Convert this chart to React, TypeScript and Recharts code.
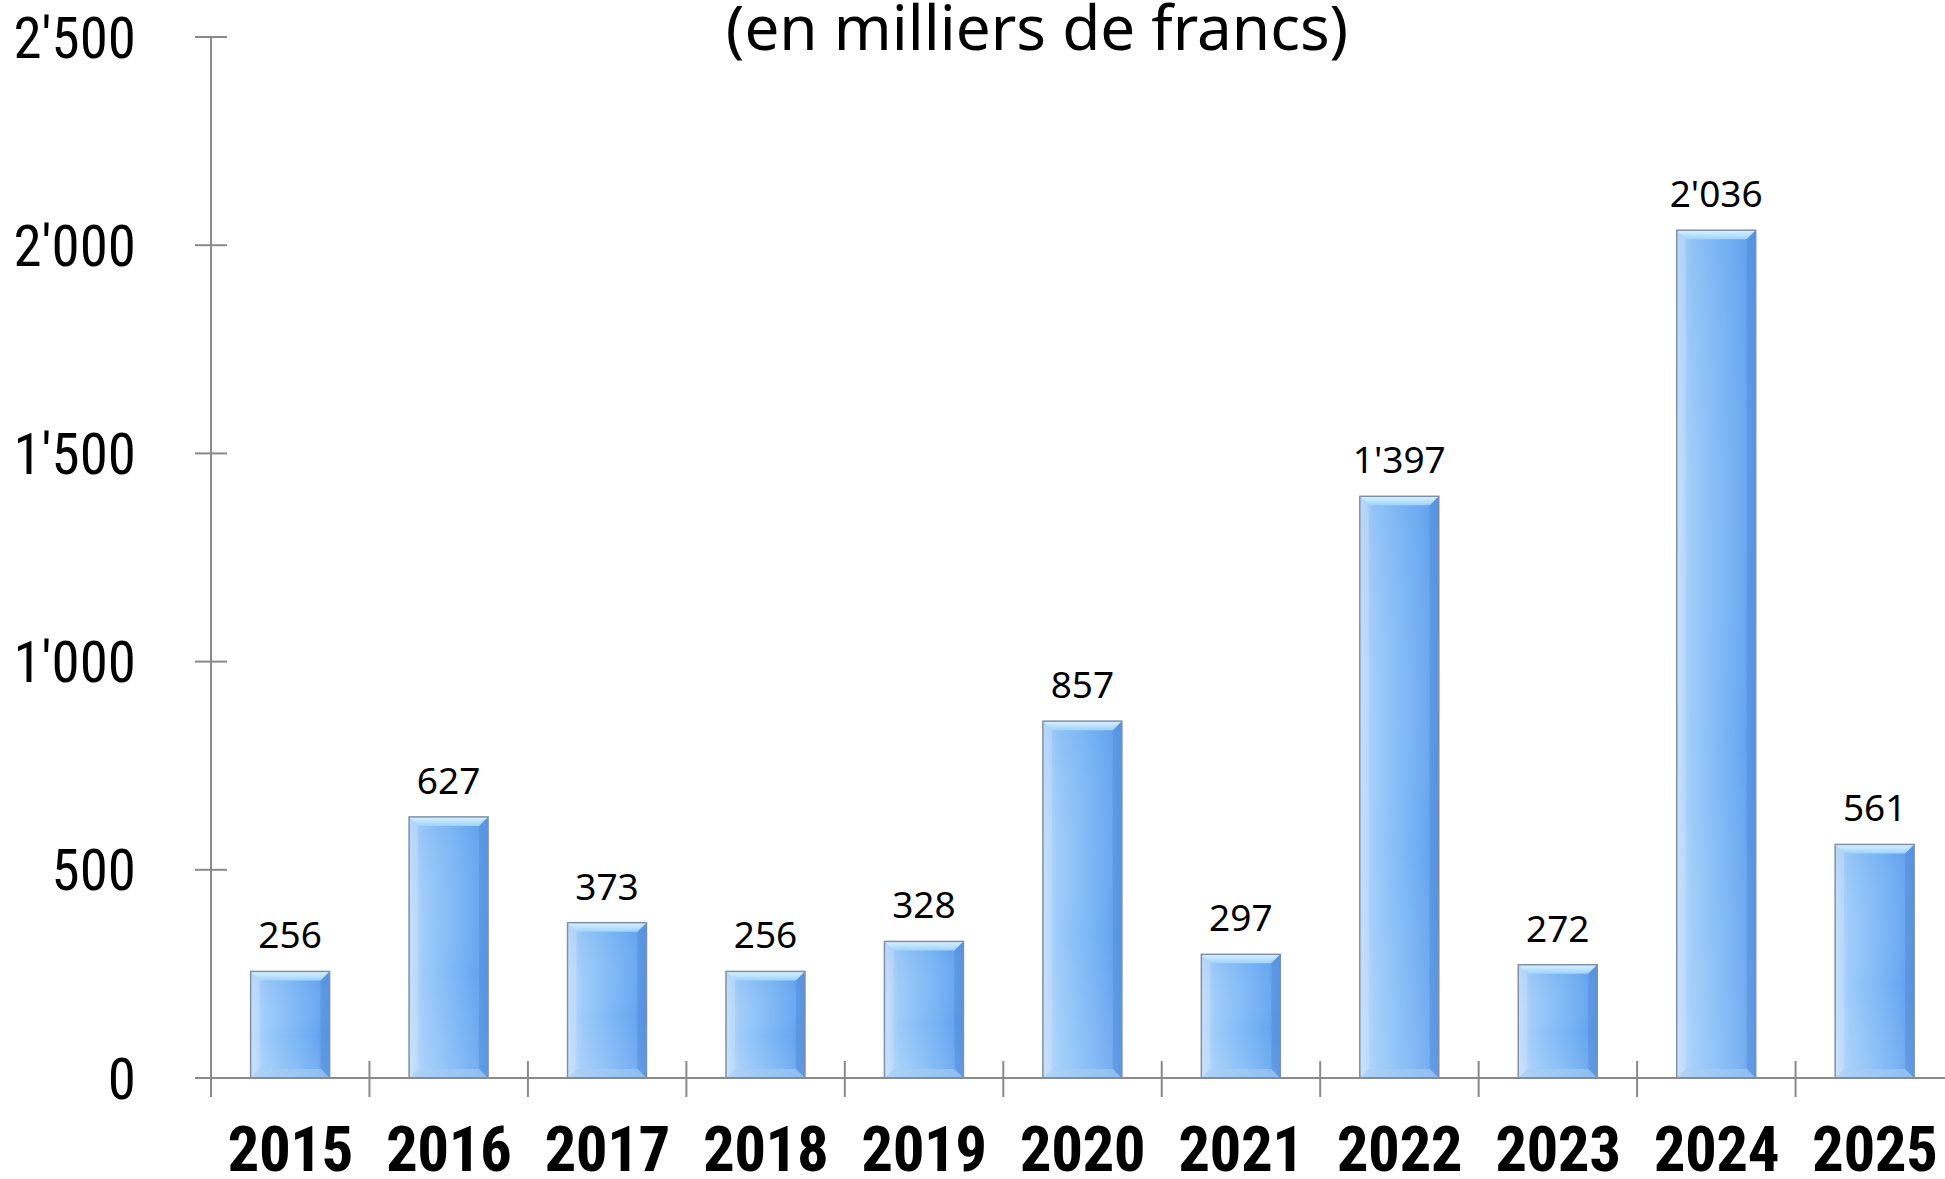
import React from 'react';
import { BarChart, Bar, XAxis, YAxis, LabelList } from 'recharts';

const years = ['2015', '2016', '2017', '2018', '2019', '2020', '2021', '2022', '2023', '2024', '2025'];
const amounts = [256, 627, 373, 256, 328, 857, 297, 1397, 272, 2036, 561];
const yTicks = [0, 500, 1000, 1500, 2000, 2500];
const titleText = '(en milliers de francs)';

const data = years.map((year, i) => ({ year, value: amounts[i] }));

const fmt = (v: number) =>
  v >= 1000 ? `${Math.floor(v / 1000)}'${String(v % 1000).padStart(3, '0')}` : String(v);

const AXIS = '#8a8a8a';
const NARROW = "'Liberation Sans Narrow', 'Roboto Condensed', 'Noto Sans', sans-serif";

function XTick(props: any) {
  const { x, y, payload, index, width, visibleTicksCount } = props;
  const off =
    payload && typeof payload.offset === 'number' && payload.offset > 0
      ? payload.offset
      : width / visibleTicksCount / 2;
  const left = x - off;
  return (
    <g>
      <line x1={left} x2={left} y1={index === 0 ? y : y - 17} y2={y + 19} stroke={AXIS} strokeWidth={2} />
      <text
        x={x}
        y={y + 93}
        textAnchor="middle"
        fontFamily={NARROW}
        fontWeight={700}
        fontSize={63}
        letterSpacing={-0.5}
        fill="#000"
      >
        {payload.value}
      </text>
    </g>
  );
}

function YTick(props: any) {
  const { x, y, payload } = props;
  return (
    <g>
      <line x1={x - 16} x2={x + 16} y1={y} y2={y} stroke={AXIS} strokeWidth={2} />
      <text x={x - 75} y={y} dy="0.36em" textAnchor="end" fontFamily={NARROW} fontSize={57} fill="#000">
        {fmt(payload.value)}
      </text>
    </g>
  );
}

function BevelBar(props: any) {
  const { x, y, width, height } = props;
  if (!height || height <= 0) return null;
  const b = Math.min(9, height / 4);
  return (
    <g>
      <rect x={x} y={y} width={width} height={height} fill="url(#barGrad)" />
      <rect x={x} y={y} width={width} height={height} fill="url(#barShade)" />
      <polygon
        points={`${x},${y} ${x + width},${y} ${x + width - b},${y + b} ${x + b},${y + b}`}
        fill="url(#bevelTop)"
      />
      <polygon
        points={`${x + width},${y} ${x + width},${y + height} ${x + width - b},${y + height - b} ${x + width - b},${y + b}`}
        fill="#4f8ddc"
        opacity={0.5}
      />
      <polygon
        points={`${x},${y} ${x + b},${y + b} ${x + b},${y + height - b} ${x},${y + height}`}
        fill="#cfe6fc"
        opacity={0.35}
      />
      <polygon
        points={`${x},${y + height} ${x + width},${y + height} ${x + width - b},${y + height - b} ${x + b},${y + height - b}`}
        fill="#a9cdf3"
        opacity={0.55}
      />
      <rect x={x} y={y} width={width} height={height} fill="none" stroke="#8090a6" strokeWidth={1.5} />
    </g>
  );
}

export default function App() {
  return (
    <div
      style={{
        position: 'absolute',
        left: 0,
        top: 0,
        width: 1945,
        height: 1179,
        overflow: 'hidden',
        background: '#fff',
      }}
    >
      <div
        style={{
          position: 'absolute',
          left: 1037,
          top: -5,
          transform: 'translateX(-50%)',
          whiteSpace: 'nowrap',
          fontFamily: "'Noto Sans', sans-serif",
          fontSize: 62,
          lineHeight: '62px',
          color: '#000',
          zIndex: 2,
        }}
      >
        {titleText}
      </div>
      <BarChart
        width={1954}
        height={1179}
        data={data}
        margin={{ top: 37, right: 0, bottom: 0, left: 0 }}
        barCategoryGap="25%"
      >
        <defs>
          <linearGradient id="barGrad" x1="0" y1="0" x2="1" y2="0">
            <stop offset="0" stopColor="#c0dcf9" />
            <stop offset="0.18" stopColor="#9ecbf9" />
            <stop offset="0.55" stopColor="#7db9f6" />
            <stop offset="0.85" stopColor="#68a6f0" />
            <stop offset="1" stopColor="#5a95e3" />
          </linearGradient>
          <linearGradient id="barShade" x1="0" y1="0" x2="0" y2="1">
            <stop offset="0" stopColor="#5a9ae8" stopOpacity={0.18} />
            <stop offset="0.6" stopColor="#ffffff" stopOpacity={0} />
            <stop offset="1" stopColor="#ffffff" stopOpacity={0.12} />
          </linearGradient>
          <linearGradient id="bevelTop" x1="0" y1="0" x2="0" y2="1">
            <stop offset="0" stopColor="#d9f2fe" />
            <stop offset="1" stopColor="#9fd3fa" />
          </linearGradient>
        </defs>
        <XAxis
          dataKey="year"
          type="category"
          height={101}
          interval={0}
          tickLine={false}
          tickSize={0}
          tickMargin={0}
          axisLine={{ stroke: AXIS, strokeWidth: 2 }}
          tick={<XTick />}
        />
        <YAxis
          type="number"
          domain={[0, 2500]}
          ticks={yTicks}
          width={211}
          interval={0}
          tickLine={false}
          tickSize={0}
          tickMargin={0}
          axisLine={{ stroke: AXIS, strokeWidth: 2 }}
          tick={<YTick />}
        />
        <Bar dataKey="value" isAnimationActive={false} shape={<BevelBar />}>
          <LabelList
            dataKey="value"
            position="top"
            offset={23}
            formatter={(v: any) => fmt(Number(v))}
            style={{ fontFamily: "'Noto Sans', sans-serif", fontSize: 37, fill: '#000' }}
          />
        </Bar>
      </BarChart>
    </div>
  );
}
